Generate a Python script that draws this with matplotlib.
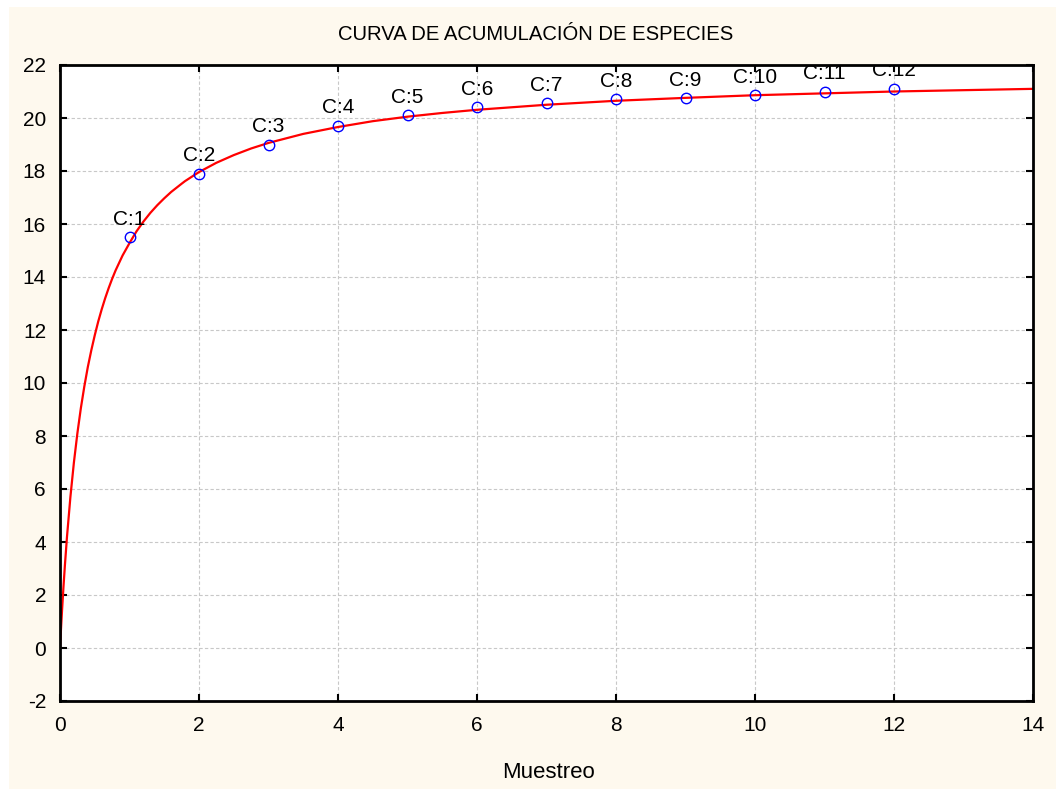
import matplotlib
matplotlib.use("Agg")
import matplotlib.pyplot as plt
from matplotlib.patches import Rectangle

# ── Data ──────────────────────────────────────────────────────────────────────

muestreo = [1, 2, 3, 4, 5, 6, 7, 8, 9, 10, 11, 12]
especies = [15.5, 17.9, 19.0, 19.7, 20.1, 20.4, 20.55, 20.7, 20.75, 20.85, 21.0, 21.1]
etiquetas = ["C:1", "C:2", "C:3", "C:4", "C:5", "C:6",
             "C:7", "C:8", "C:9", "C:10", "C:11", "C:12"]

# fitted accumulation curve, sampled by eye
curva_x = [0, 0.01, 0.02, 0.03, 0.05, 0.07, 0.1, 0.15, 0.2, 0.25, 0.3, 0.35,
           0.4, 0.45, 0.5, 0.55, 0.6, 0.65, 0.7, 0.75, 0.8, 0.9, 1.0, 1.1,
           1.2, 1.3, 1.4, 1.5, 1.6, 1.75, 1.8, 2, 2.25, 2.5, 2.75, 3, 3.5,
           4, 4.5, 5, 5.5, 6, 7, 8, 9, 10, 11, 12, 13, 14]
curva_y = [0, 0.5, 0.99, 1.45, 2.31, 3.1, 4.18, 5.71, 7.0, 8.1, 9.05, 9.87,
           10.6, 11.23, 11.8, 12.32, 12.78, 13.2, 13.58, 13.93, 14.25, 14.81, 15.28, 15.72,
           16.09, 16.42, 16.71, 16.97, 17.21, 17.52, 17.62, 17.96, 18.31, 18.6, 18.85, 19.06, 19.4,
           19.66, 19.88, 20.05, 20.19, 20.31, 20.5, 20.65, 20.76, 20.86, 20.93, 21.0, 21.05, 21.1]

x_ticks = [0, 2, 4, 6, 8, 10, 12, 14]
y_ticks = [-2, 0, 2, 4, 6, 8, 10, 12, 14, 16, 18, 20, 22]

TITLE = "CURVA DE ACUMULACIÓN DE ESPECIES"
XLABEL = "Muestreo"

CREAM = "#fef9ee"
W, H = 1056, 789

plt.rcParams["font.family"] = ["Liberation Sans", "DejaVu Sans"]

fig = plt.figure(figsize=(W / 100, H / 100), dpi=100)
fig.patch.set_facecolor("white")
bg = Rectangle((9 / W, 0), 1 - 9 / W, 1 - 7 / H, transform=fig.transFigure,
               facecolor=CREAM, edgecolor="none", zorder=-10)
fig.add_artist(bg)

ax = fig.add_axes([60 / W, 1 - 701 / H, (1033 - 60) / W, (701 - 65) / H])
ax.set_zorder(1)
ax.set_facecolor("white")

ax.plot(curva_x, curva_y, color="red", lw=1.6, zorder=3)
ax.plot(muestreo, especies, linestyle="none", marker="o", ms=7.5,
        mfc="none", mec="blue", mew=1.0, zorder=4)

for xv, yv, lab in zip(muestreo, especies, etiquetas):
    ax.annotate(lab, (xv, yv), xytext=(0, 9), textcoords="offset points",
                ha="center", va="baseline", fontsize=15, color="black",
                annotation_clip=False, clip_on=True, zorder=5)

ax.set_xlim(0, 14)
ax.set_ylim(-2, 22)
ax.set_xticks(x_ticks)
ax.set_yticks(y_ticks)
ax.set_yticklabels([str(v) for v in y_ticks])
ax.grid(True, color="#c8c8c8", linestyle=(0, (3, 2)), linewidth=0.8)
ax.set_axisbelow(True)

ax.tick_params(axis="both", direction="in", length=5, width=1.5,
               top=True, right=True, labelsize=15, colors="black")
ax.tick_params(axis="x", pad=11)
ax.tick_params(axis="y", pad=10)
for sp in ax.spines.values():
    sp.set_linewidth(2.0)
    sp.set_color("black")
    sp.set_zorder(6)

fig.text(536 / W, 1 - 35 / H, TITLE, ha="center", va="center", fontsize=14.6)
fig.text(548 / W, 1 - 772 / H, XLABEL, ha="center", va="center", fontsize=16)

fig.savefig("out.png", dpi=100, facecolor=fig.get_facecolor())
